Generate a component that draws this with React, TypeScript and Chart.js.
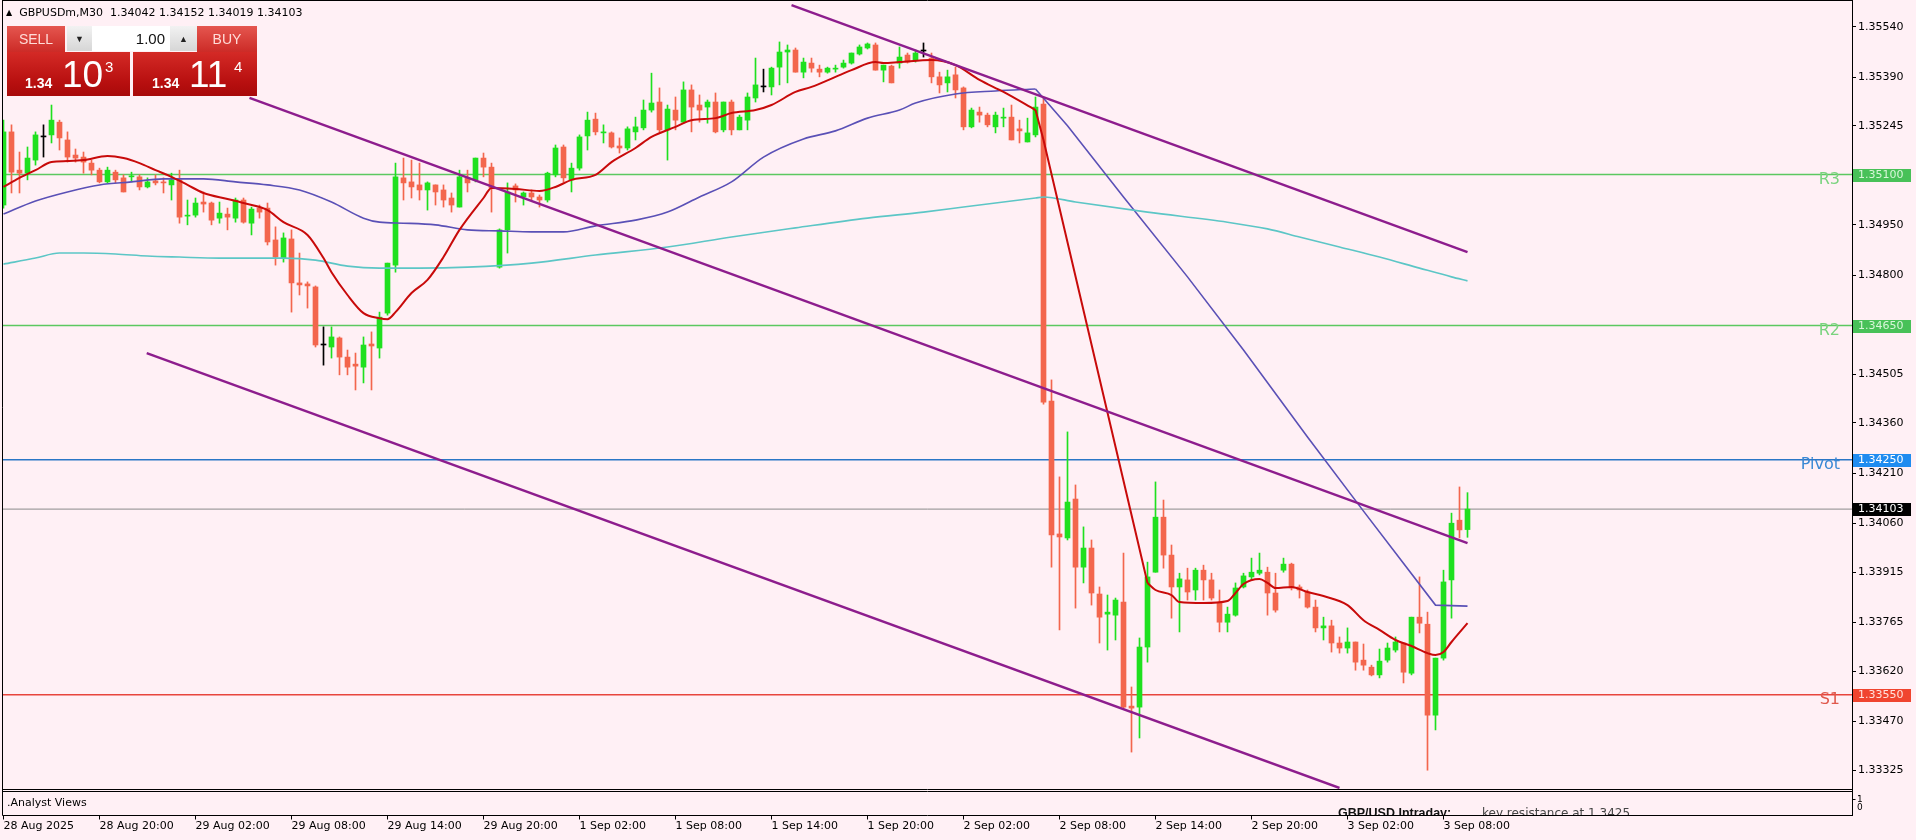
import React, { useEffect, useRef } from "react";
import { Chart, registerables } from "chart.js";

Chart.register(...registerables);

// ---------------- DATA ----------------
const symbolName = "GBPUSDm,M30";

const opens = [
  1.35009, 1.35227, 1.35113, 1.35104, 1.35143, 1.35212, 1.35218, 1.35256, 1.35203, 1.35158,
  1.35152, 1.35134, 1.35113, 1.35078, 1.35107, 1.35090, 1.35093, 1.35093, 1.35063, 1.35081,
  1.35078, 1.35069, 1.35084, 1.34976, 1.34979, 1.35018, 1.35015, 1.34970, 1.34982, 1.34970,
  1.35024, 1.34955, 1.35000, 1.35000, 1.34905, 1.34851, 1.34908, 1.34777, 1.34774, 1.34765,
  1.34592, 1.34586, 1.34613, 1.34556, 1.34535, 1.34526, 1.34595, 1.34583, 1.34687, 1.34830,
  1.35090, 1.35078, 1.35069, 1.35054, 1.35069, 1.35054, 1.35030, 1.35003, 1.35090, 1.35084,
  1.35149, 1.35122, 1.34824, 1.34935, 1.35066, 1.35033, 1.35045, 1.35033, 1.35024, 1.35099,
  1.35182, 1.35084, 1.35119, 1.35215, 1.35265, 1.35224, 1.35224, 1.35185, 1.35179, 1.35227,
  1.35239, 1.35292, 1.35316, 1.35233, 1.35292, 1.35256, 1.35352, 1.35307, 1.35301, 1.35316,
  1.35233, 1.35316, 1.35233, 1.35262, 1.35328, 1.35361, 1.35361, 1.35420, 1.35465, 1.35471,
  1.35405, 1.35432, 1.35414, 1.35405, 1.35414, 1.35420, 1.35432, 1.35459, 1.35477, 1.35486,
  1.35411, 1.35423, 1.35432, 1.35456, 1.35441, 1.35468, 1.35447, 1.35391, 1.35373, 1.35397,
  1.35358, 1.35242, 1.35286, 1.35277, 1.35242, 1.35268, 1.35271, 1.35236, 1.35197, 1.35218,
  1.35310, 1.34425, 1.34029, 1.34017, 1.34133, 1.33930, 1.33987, 1.33850, 1.33790, 1.33787,
  1.33826, 1.33516, 1.33513, 1.33692, 1.33915, 1.34079, 1.33966, 1.33871, 1.33892, 1.33862,
  1.33921, 1.33892, 1.33826, 1.33766, 1.33787, 1.33871, 1.33901, 1.33912, 1.33915, 1.33853,
  1.33921, 1.33939, 1.33871, 1.33856, 1.33811, 1.33749, 1.33755, 1.33704, 1.33689, 1.33707,
  1.33653, 1.33632, 1.33609, 1.33653, 1.33683, 1.33704, 1.33614, 1.33781, 1.33760, 1.33489,
  1.33659, 1.33892, 1.34070, 1.34042,
];

const highs = [
  1.35262, 1.35248, 1.35167, 1.35182, 1.35227, 1.35248, 1.35307, 1.35262, 1.35227, 1.35176,
  1.35167, 1.35143, 1.35119, 1.35122, 1.35113, 1.35099, 1.35107, 1.35099, 1.35090, 1.35099,
  1.35090, 1.35104, 1.35113, 1.35024, 1.35030, 1.35048, 1.35018, 1.35018, 1.35000, 1.35030,
  1.35030, 1.35003, 1.35009, 1.35015, 1.34944, 1.34926, 1.34935, 1.34866, 1.34780, 1.34768,
  1.34646, 1.34646, 1.34616, 1.34577, 1.34568, 1.34616, 1.34631, 1.34690, 1.34836, 1.35134,
  1.35149, 1.35143, 1.35134, 1.35078, 1.35069, 1.35069, 1.35045, 1.35113, 1.35113, 1.35149,
  1.35164, 1.35134, 1.34938, 1.35075, 1.35072, 1.35048, 1.35054, 1.35039, 1.35107, 1.35188,
  1.35188, 1.35134, 1.35218, 1.35286, 1.35283, 1.35248, 1.35227, 1.35209, 1.35242, 1.35271,
  1.35322, 1.35402, 1.35358, 1.35307, 1.35331, 1.35376, 1.35367, 1.35337, 1.35322, 1.35343,
  1.35316, 1.35322, 1.35277, 1.35343, 1.35447, 1.35414, 1.35420, 1.35495, 1.35486, 1.35477,
  1.35447, 1.35447, 1.35426, 1.35420, 1.35426, 1.35441, 1.35462, 1.35486, 1.35492, 1.35492,
  1.35426, 1.35426, 1.35480, 1.35462, 1.35471, 1.35492, 1.35462, 1.35405, 1.35411, 1.35420,
  1.35361, 1.35298, 1.35301, 1.35283, 1.35286, 1.35298, 1.35307, 1.35262, 1.35268, 1.35331,
  1.35331, 1.34488, 1.34199, 1.34333, 1.34175, 1.34050, 1.34011, 1.33871, 1.33847, 1.33838,
  1.33972, 1.33573, 1.33719, 1.33945, 1.34184, 1.34130, 1.33996, 1.33912, 1.33927, 1.33927,
  1.33936, 1.33912, 1.33862, 1.33811, 1.33883, 1.33912, 1.33957, 1.33972, 1.33930, 1.33912,
  1.33957, 1.33942, 1.33877, 1.33862, 1.33832, 1.33781, 1.33772, 1.33722, 1.33749, 1.33707,
  1.33701, 1.33638, 1.33686, 1.33704, 1.33722, 1.33704, 1.33781, 1.33901, 1.33796, 1.33659,
  1.33921, 1.34091, 1.34169, 1.34152,
];

const lows = [
  1.35000, 1.35045, 1.35045, 1.35084, 1.35128, 1.35152, 1.35194, 1.35173, 1.35137, 1.35137,
  1.35104, 1.35099, 1.35075, 1.35075, 1.35075, 1.35048, 1.35078, 1.35054, 1.35060, 1.35069,
  1.35045, 1.35024, 1.34955, 1.34950, 1.34973, 1.34988, 1.34950, 1.34955, 1.34935, 1.34958,
  1.34955, 1.34920, 1.34970, 1.34890, 1.34830, 1.34839, 1.34690, 1.34741, 1.34702, 1.34586,
  1.34532, 1.34553, 1.34503, 1.34503, 1.34458, 1.34479, 1.34458, 1.34553, 1.34681, 1.34809,
  1.35024, 1.35030, 1.35024, 1.34994, 1.35009, 1.35003, 1.34988, 1.35003, 1.35048, 1.35078,
  1.35093, 1.34988, 1.34821, 1.34866, 1.35018, 1.35009, 1.35024, 1.35003, 1.35018, 1.35093,
  1.35078, 1.35048, 1.35113, 1.35173, 1.35218, 1.35194, 1.35179, 1.35164, 1.35173, 1.35203,
  1.35233, 1.35286, 1.35227, 1.35143, 1.35233, 1.35253, 1.35227, 1.35256, 1.35253, 1.35224,
  1.35227, 1.35218, 1.35233, 1.35233, 1.35316, 1.35346, 1.35337, 1.35367, 1.35373, 1.35405,
  1.35388, 1.35405, 1.35391, 1.35402, 1.35405, 1.35417, 1.35429, 1.35456, 1.35474, 1.35411,
  1.35376, 1.35373, 1.35417, 1.35432, 1.35435, 1.35450, 1.35373, 1.35343, 1.35346, 1.35328,
  1.35233, 1.35239, 1.35256, 1.35242, 1.35224, 1.35242, 1.35203, 1.35194, 1.35197, 1.35212,
  1.34416, 1.33930, 1.33743, 1.34011, 1.33808, 1.33883, 1.33817, 1.33704, 1.33683, 1.33713,
  1.33510, 1.33379, 1.33421, 1.33647, 1.33915, 1.33927, 1.33778, 1.33737, 1.33832, 1.33832,
  1.33832, 1.33832, 1.33737, 1.33737, 1.33784, 1.33868, 1.33892, 1.33907, 1.33787, 1.33796,
  1.33915, 1.33862, 1.33838, 1.33808, 1.33737, 1.33713, 1.33677, 1.33674, 1.33674, 1.33623,
  1.33623, 1.33606, 1.33600, 1.33647, 1.33677, 1.33585, 1.33609, 1.33734, 1.33325, 1.33445,
  1.33653, 1.33778, 1.34017, 1.34019,
];

const closes = [
  1.35227, 1.35107, 1.35104, 1.35149, 1.35218, 1.35212, 1.35262, 1.35209, 1.35152, 1.35149,
  1.35137, 1.35113, 1.35078, 1.35113, 1.35084, 1.35048, 1.35096, 1.35063, 1.35078, 1.35075,
  1.35075, 1.35084, 1.34973, 1.34979, 1.35015, 1.35012, 1.34964, 1.34985, 1.34973, 1.35024,
  1.34958, 1.34997, 1.34988, 1.34899, 1.34854, 1.34911, 1.34777, 1.34771, 1.34768, 1.34592,
  1.34592, 1.34616, 1.34556, 1.34526, 1.34529, 1.34592, 1.34589, 1.34675, 1.34836, 1.35093,
  1.35075, 1.35063, 1.35054, 1.35075, 1.35048, 1.35024, 1.35009, 1.35093, 1.35075, 1.35149,
  1.35122, 1.35060, 1.34935, 1.35048, 1.35054, 1.35045, 1.35033, 1.35024, 1.35104, 1.35179,
  1.35090, 1.35119, 1.35212, 1.35262, 1.35227, 1.35227, 1.35182, 1.35179, 1.35236, 1.35242,
  1.35292, 1.35313, 1.35233, 1.35295, 1.35262, 1.35352, 1.35301, 1.35292, 1.35316, 1.35227,
  1.35316, 1.35233, 1.35271, 1.35331, 1.35367, 1.35361, 1.35417, 1.35465, 1.35471, 1.35405,
  1.35435, 1.35417, 1.35405, 1.35417, 1.35417, 1.35432, 1.35462, 1.35480, 1.35489, 1.35411,
  1.35426, 1.35373, 1.35450, 1.35435, 1.35462, 1.35468, 1.35391, 1.35367, 1.35391, 1.35352,
  1.35242, 1.35292, 1.35277, 1.35248, 1.35277, 1.35271, 1.35203, 1.35230, 1.35224, 1.35301,
  1.34422, 1.34026, 1.34020, 1.34124, 1.33930, 1.33987, 1.33853, 1.33781, 1.33796, 1.33832,
  1.33513, 1.33510, 1.33692, 1.33901, 1.34079, 1.33966, 1.33871, 1.33895, 1.33856, 1.33921,
  1.33892, 1.33838, 1.33766, 1.33790, 1.33868, 1.33904, 1.33915, 1.33921, 1.33853, 1.33802,
  1.33939, 1.33868, 1.33862, 1.33811, 1.33749, 1.33755, 1.33704, 1.33689, 1.33707, 1.33647,
  1.33638, 1.33609, 1.33650, 1.33689, 1.33707, 1.33617, 1.33781, 1.33763, 1.33489, 1.33659,
  1.33886, 1.34061, 1.34041, 1.34103,
];

// moving averages: [bar index, price]
const fastMA: [number, number][] = [
  [0, 1.35063], [2, 1.3509], [4, 1.35113], [6, 1.35137], [8, 1.3514], [10, 1.35143], [13, 1.35155],
  [15, 1.35149], [17, 1.35134], [19, 1.35113], [21, 1.35093], [23, 1.35069], [25, 1.35045],
  [28, 1.35027], [30, 1.35015], [33, 1.34994], [35, 1.34958], [38, 1.3492], [40, 1.34851],
  [41, 1.34809], [43, 1.34741], [45, 1.34687], [47, 1.34672], [48, 1.34669], [49, 1.3469],
  [51, 1.34747], [53, 1.34786], [55, 1.34854], [57, 1.34935], [60, 1.3503], [61, 1.3506],
  [64, 1.35057], [67, 1.35051], [69, 1.35063], [71, 1.35084], [74, 1.35099], [76, 1.35137],
  [79, 1.35179], [81, 1.35212], [84, 1.35242], [86, 1.35262], [89, 1.35268], [91, 1.35283],
  [94, 1.35292], [96, 1.35307], [99, 1.35346], [101, 1.35361], [104, 1.35391], [106, 1.35411],
  [109, 1.35435], [110, 1.35432], [112, 1.35435], [116, 1.35441], [119, 1.35426], [122, 1.35382],
  [125, 1.35346], [129, 1.35292], [130, 1.35203], [143, 1.33883], [144, 1.33862], [146, 1.33847],
  [147, 1.33826], [150, 1.33823], [153, 1.33829], [154, 1.33853], [155, 1.3388], [157, 1.33895],
  [158, 1.33883], [159, 1.33868], [161, 1.33871], [163, 1.33856], [165, 1.33844], [168, 1.33817],
  [170, 1.33772], [172, 1.33743], [174, 1.33713], [176, 1.33695], [178, 1.33674], [179, 1.33668],
  [180, 1.33677], [181, 1.33707], [183, 1.33763],
];

const midMA: [number, number][] = [
  [0, 1.34982], [4, 1.35021], [8, 1.35048], [12, 1.35069], [16, 1.35078], [20, 1.35087],
  [25, 1.35087], [29, 1.35078], [33, 1.35069], [37, 1.35054], [41, 1.35018], [45, 1.3497],
  [47, 1.34958], [50, 1.34955], [54, 1.3495], [58, 1.34935], [62, 1.34932], [66, 1.34929],
  [70, 1.34929], [74, 1.34947], [79, 1.34964], [83, 1.34988], [87, 1.35033], [91, 1.35078],
  [95, 1.35152], [100, 1.35206], [104, 1.3523], [108, 1.35268], [112, 1.35292], [114, 1.35313],
  [119, 1.3534], [124, 1.35349], [129, 1.35355], [133, 1.35245], [140, 1.35033], [148, 1.34795],
  [155, 1.34577], [163, 1.34318], [170, 1.34097], [179, 1.33817], [183, 1.33814],
];

const slowMA: [number, number][] = [
  [0, 1.34833], [4, 1.34851], [7, 1.34866], [10, 1.34866], [14, 1.34863], [18, 1.34857],
  [22, 1.34854], [27, 1.34851], [31, 1.34851], [35, 1.34851], [39, 1.34845], [43, 1.34827],
  [47, 1.34821], [52, 1.34821], [58, 1.34824], [66, 1.34836], [74, 1.3486], [83, 1.34884],
  [91, 1.34914], [99, 1.34941], [108, 1.3497], [115, 1.34988], [120, 1.35003], [125, 1.35018],
  [129, 1.3503], [130, 1.35033], [134, 1.35018], [143, 1.34988], [153, 1.34958], [158, 1.34938],
  [162, 1.34914], [167, 1.34884], [172, 1.34854], [177, 1.34821], [181, 1.34795], [183, 1.34783],
];

// bar indices where an average line turns sharply (drawn as straight segments between them)
const fastMABreaks = [129, 143];
const midMABreaks = [129];

// trend lines: [bar index, price] end points
const trendUpper: [number, number][] = [[98.5, 1.35605], [183, 1.34869]];
const trendMiddle: [number, number][] = [[30.75, 1.35328], [183, 1.34002]];
const trendLower: [number, number][] = [[17.9, 1.34568], [167, 1.33272]];

// horizontal levels
const levelNames = ["R3", "R2", "Pivot", "S1"];
const levelValues = [1.351, 1.3465, 1.3425, 1.3355];
const bidPrice = 1.34103;
const askPrice = 1.34114;
const lotSize = "1.00";

// axis tick labels
const timeTickLabels = [
  "28 Aug 2025", "28 Aug 20:00", "29 Aug 02:00", "29 Aug 08:00", "29 Aug 14:00", "29 Aug 20:00",
  "1 Sep 02:00", "1 Sep 08:00", "1 Sep 14:00", "1 Sep 20:00", "2 Sep 02:00", "2 Sep 08:00",
  "2 Sep 14:00", "2 Sep 20:00", "3 Sep 02:00", "3 Sep 08:00",
];
const BARS_PER_TIME_TICK = 12;
const priceTicks = [
  1.3554, 1.3539, 1.35245, 1.351, 1.3495, 1.348, 1.3465, 1.34505, 1.3436, 1.3421, 1.3406,
  1.33915, 1.33765, 1.3362, 1.3347, 1.33325,
];
const subWindowName = ".Analyst Views";
const noteTitle = "GBP/USD Intraday:";
const noteText = "key resistance at 1.3425.";

// ---------------- STYLE ----------------
const BG = "#fff0f5";
const BULL = "#1fe01f";
const BEAR = "#f3664d";
const FONT = '"DejaVu Sans", Verdana, sans-serif';
const levelStyle = {
  line: ["#5cc860", "#5cc860", "#2a76c6", "#e8453c"],
  text: ["#7ad37e", "#7ad37e", "#3a88d4", "#e0584c"],
  box: ["#48c158", "#48c158", "#1f8cf0", "#f0452f"],
  boxText: ["#d8f6d8", "#d8f6d8", "#ffffff", "#ffe2dc"],
};

const candleColor = (i: number) =>
  closes[i] > opens[i] ? BULL : closes[i] < opens[i] ? BEAR : "#000000";

const chromePlugin = {
  id: "mt4chrome",
  beforeDraw(chart: any) {
    const { ctx, width, height } = chart;
    ctx.save();
    ctx.fillStyle = BG;
    ctx.fillRect(0, 0, width, height);
    ctx.restore();
  },
  afterDraw(chart: any) {
    const { ctx, chartArea: ca } = chart;
    const xs = chart.scales.x;
    const ys = chart.scales.y;
    const L = ca.left - 0.5;
    const R = ca.right + 0.5;
    const subTop = ca.bottom + 2.5;
    const subBottom = ca.bottom + 26.5;
    ctx.save();

    // level names inside the pane
    ctx.font = `16px ${FONT}`;
    ctx.textAlign = "right";
    ctx.textBaseline = "middle";
    levelValues.forEach((v, k) => {
      const py = ys.getPixelForValue(v);
      ctx.fillStyle = levelStyle.text[k];
      ctx.fillText(levelNames[k], ca.right - 12, py + 5);
    });

    // frames
    ctx.strokeStyle = "#000";
    ctx.lineWidth = 1;
    ctx.beginPath();
    ctx.moveTo(L, 0.5); ctx.lineTo(R, 0.5);
    ctx.moveTo(L, 0); ctx.lineTo(L, subBottom);
    ctx.moveTo(R, 0); ctx.lineTo(R, subBottom + 0.5);
    ctx.moveTo(L, ca.bottom + 0.5); ctx.lineTo(R, ca.bottom + 0.5);
    ctx.moveTo(L, subTop); ctx.lineTo(R, subTop);
    ctx.moveTo(L, subBottom); ctx.lineTo(R, subBottom);
    // time tick marks
    timeTickLabels.forEach((_, k) => {
      const px = Math.floor(xs.getPixelForValue(k * BARS_PER_TIME_TICK)) + 0.5;
      ctx.moveTo(px, subBottom); ctx.lineTo(px, subBottom + 4);
    });
    // sub-window scale ticks
    ctx.moveTo(R, ca.bottom + 10.5); ctx.lineTo(R + 3, ca.bottom + 10.5);
    ctx.stroke();

    // price boxes on the axis
    ctx.font = `11px ${FONT}`;
    ctx.textAlign = "left";
    ctx.textBaseline = "middle";
    const drawBox = (v: number, bg: string, fg: string) => {
      const py = Math.round(ys.getPixelForValue(v));
      ctx.fillStyle = bg;
      ctx.fillRect(ca.right + 1, py - 6, 58, 13);
      ctx.fillStyle = fg;
      ctx.fillText(v.toFixed(5), ca.right + 6, py + 0.5);
    };
    levelValues.forEach((v, k) => drawBox(v, levelStyle.box[k], levelStyle.boxText[k]));
    drawBox(bidPrice, "#000000", "#ffffff");

    // sub window scale
    ctx.fillStyle = "#000";
    ctx.font = `9px ${FONT}`;
    ctx.fillText("1", ca.right + 5, ca.bottom + 11);
    ctx.fillText("0", ca.right + 5, ca.bottom + 19);

    // sub window content
    ctx.save();
    ctx.beginPath();
    ctx.rect(ca.left, subTop + 0.5, ca.right - ca.left, subBottom - subTop - 1);
    ctx.clip();
    ctx.fillStyle = "#000";
    ctx.font = `11px ${FONT}`;
    ctx.textBaseline = "middle";
    ctx.fillText(subWindowName, ca.left + 4, ca.bottom + 14);
    ctx.textBaseline = "alphabetic";
    ctx.font = `bold 12.5px "Liberation Sans", Arial, sans-serif`;
    ctx.fillStyle = "#111";
    ctx.fillText(noteTitle, 1338, subBottom + 1);
    ctx.font = `12px ${FONT}`;
    ctx.fillStyle = "#444";
    ctx.fillText(noteText, 1482, subBottom + 1);
    ctx.restore();

    ctx.restore();
  },
};

const pts = (arr: [number, number][]) => arr.map(([x, y]) => ({ x, y }));
const hline = (v: number) => [{ x: -1, y: v }, { x: 240, y: v }];

// split an average into pieces at its sharp turns; odd pieces are drawn straight
const splitAt = (arr: [number, number][], breaks: number[]) => {
  const cuts = [-Infinity, ...breaks, Infinity];
  const parts: { data: [number, number][]; straight: boolean }[] = [];
  for (let k = 0; k < cuts.length - 1; k++) {
    const data = arr.filter(([x]) => x >= cuts[k] && x <= cuts[k + 1]);
    parts.push({ data, straight: k % 2 === 1 });
  }
  return parts;
};

function TradePanel() {
  const bid = bidPrice.toFixed(5);
  const ask = askPrice.toFixed(5);
  const btn = {
    position: "absolute" as const,
    top: 0,
    height: 26,
    background: "linear-gradient(#e5564f, #cc2b27)",
    color: "#ffdcd8",
    fontSize: 14,
    display: "flex",
    alignItems: "center",
    justifyContent: "center",
  };
  const priceBox = {
    position: "absolute" as const,
    top: 26,
    height: 44,
    background: "linear-gradient(#d42a26, #b70f0f 70%, #a80a0a)",
    color: "#fff",
  };
  const span = (left: number, top: number, size: number, bold: boolean, text: string) => (
    <span
      style={{
        position: "absolute",
        left,
        top,
        fontSize: size,
        lineHeight: 1,
        fontWeight: bold ? 700 : 400,
        whiteSpace: "pre",
      }}
    >
      {text}
    </span>
  );
  const grey = {
    position: "absolute" as const,
    top: 0,
    height: 25,
    background: "linear-gradient(#f2f2f2, #d6d6d6)",
    color: "#222",
    fontSize: 9,
    display: "flex",
    alignItems: "center",
    justifyContent: "center",
  };
  return (
    <div
      style={{
        position: "absolute",
        left: 7,
        top: 26,
        width: 250,
        height: 70,
        fontFamily: '"Liberation Sans", Arial, sans-serif',
      }}
    >
      <div style={{ ...btn, left: 0, width: 58 }}>SELL</div>
      <div style={{ ...grey, left: 60, width: 25 }}>▼</div>
      <div
        style={{
          position: "absolute",
          left: 85,
          top: 0,
          width: 78,
          height: 25,
          background: "#fff",
          fontSize: 15,
          color: "#111",
          display: "flex",
          alignItems: "center",
          justifyContent: "flex-end",
          paddingRight: 5,
          boxSizing: "border-box",
        }}
      >
        {lotSize}
      </div>
      <div style={{ ...grey, left: 163, width: 27 }}>▲</div>
      <div style={{ ...btn, left: 190, width: 60 }}>BUY</div>
      <div style={{ ...priceBox, left: 0, width: 123 }}>
        {span(18, 24, 14, true, bid.slice(0, 4))}
        {span(55, 4, 37, false, bid.slice(4, 6))}
        {span(98, 7, 15, false, bid.slice(6))}
      </div>
      <div style={{ ...priceBox, left: 126, width: 124 }}>
        {span(19, 24, 14, true, ask.slice(0, 4))}
        {span(56, 4, 37, false, ask.slice(4, 6))}
        {span(101, 7, 15, false, ask.slice(6))}
      </div>
    </div>
  );
}

export default function App() {
  const canvasRef = useRef<HTMLCanvasElement | null>(null);

  useEffect(() => {
    const idx = opens.map((_, i) => i);
    const colors = idx.map(candleColor);
    const maLines = (arr: [number, number][], breaks: number[], color: string, width: number, order: number) =>
      splitAt(arr, breaks).map((p) => ({
        type: "line" as const,
        data: pts(p.data),
        borderColor: color,
        borderWidth: width,
        pointRadius: 0,
        tension: 0,
        cubicInterpolationMode: p.straight ? ("default" as const) : ("monotone" as const),
        order,
      }));
    const chart = new Chart(canvasRef.current as HTMLCanvasElement, {
      type: "bar",
      data: {
        datasets: [
          ...levelValues.map((v, k) => ({
            type: "line" as const,
            data: hline(v),
            borderColor: levelStyle.line[k],
            borderWidth: 1.6,
            pointRadius: 0,
            order: 6,
          })),
          {
            type: "line" as const,
            data: hline(bidPrice),
            borderColor: "#8a8a8a",
            borderWidth: 1,
            pointRadius: 0,
            order: 6,
          },
          {
            type: "bar" as const,
            data: idx.map((i) => ({ x: i, y: [lows[i], highs[i]] })),
            backgroundColor: colors,
            barThickness: 1,
            grouped: false,
            order: 5,
          },
          {
            type: "bar" as const,
            data: idx.map((i) => ({ x: i, y: [opens[i], closes[i]] })),
            backgroundColor: colors,
            barThickness: 5,
            minBarLength: 1,
            grouped: false,
            order: 4,
          },
          ...maLines(slowMA, [], "#5cc6c6", 1.6, 3),
          ...maLines(midMA, midMABreaks, "#5a50b6", 1.6, 3),
          ...maLines(fastMA, fastMABreaks, "#c80a0a", 2, 2),
          ...[trendUpper, trendMiddle, trendLower].map((t) => ({
            type: "line" as const,
            data: pts(t),
            borderColor: "#8d1d8d",
            borderWidth: 2.4,
            pointRadius: 0,
            order: 1,
          })),
        ],
      },
      options: {
        animation: false,
        responsive: false,
        devicePixelRatio: 1,
        events: [],
        layout: { padding: { left: 3, top: 0, right: 0, bottom: 0 } },
        plugins: { legend: { display: false }, tooltip: { enabled: false } },
        scales: {
          x: {
            type: "linear",
            min: -0.0625,
            max: 231.0625,
            offset: false,
            grid: { display: false, drawTicks: false },
            border: { display: false },
            afterBuildTicks: (s: any) => {
              s.ticks = timeTickLabels.map((_, k) => ({ value: k * BARS_PER_TIME_TICK }));
            },
            afterFit: (s: any) => {
              s.height = 51;
              s.paddingLeft = 0;
              s.paddingRight = 0;
            },
            ticks: {
              autoSkip: false,
              maxRotation: 0,
              minRotation: 0,
              align: "start",
              padding: 31,
              color: "#000",
              font: { family: FONT, size: 11 },
              callback: (_v: any, i: number) => timeTickLabels[i],
            },
          },
          y: {
            type: "linear",
            position: "right",
            min: 1.33269,
            max: 1.3562,
            grid: { drawOnChartArea: false, drawTicks: true, tickLength: 4, color: "#000" },
            border: { display: false },
            afterBuildTicks: (s: any) => {
              s.ticks = priceTicks.map((v) => ({ value: v }));
            },
            afterFit: (s: any) => {
              s.width = 64;
              s.paddingTop = 0;
              s.paddingBottom = 0;
            },
            ticks: {
              autoSkip: false,
              padding: 2,
              color: "#000",
              font: { family: FONT, size: 11 },
              callback: (v: any) => Number(v).toFixed(5),
            },
          },
        },
      } as any,
      plugins: [chromePlugin],
    });
    return () => chart.destroy();
  }, []);

  const lastIdx = opens.length - 1;
  const header = `${symbolName}  ${opens[lastIdx].toFixed(5)} ${highs[lastIdx].toFixed(5)} ${lows[lastIdx].toFixed(5)} ${closes[lastIdx].toFixed(5)}`;

  return (
    <div
      style={{
        position: "fixed",
        left: 0,
        top: 0,
        width: 1916,
        height: 840,
        background: BG,
        overflow: "hidden",
      }}
    >
      <canvas ref={canvasRef} width={1916} height={840} style={{ display: "block", width: 1916, height: 840 }} />
      <div
        style={{
          position: "absolute",
          left: 6,
          top: 6,
          fontFamily: FONT,
          fontSize: 11,
          lineHeight: "13px",
          color: "#000",
          whiteSpace: "pre",
        }}
      >
        <span style={{ fontSize: 8, verticalAlign: "1px", marginRight: 7 }}>▲</span>
        {header}
      </div>
      <TradePanel />
    </div>
  );
}
